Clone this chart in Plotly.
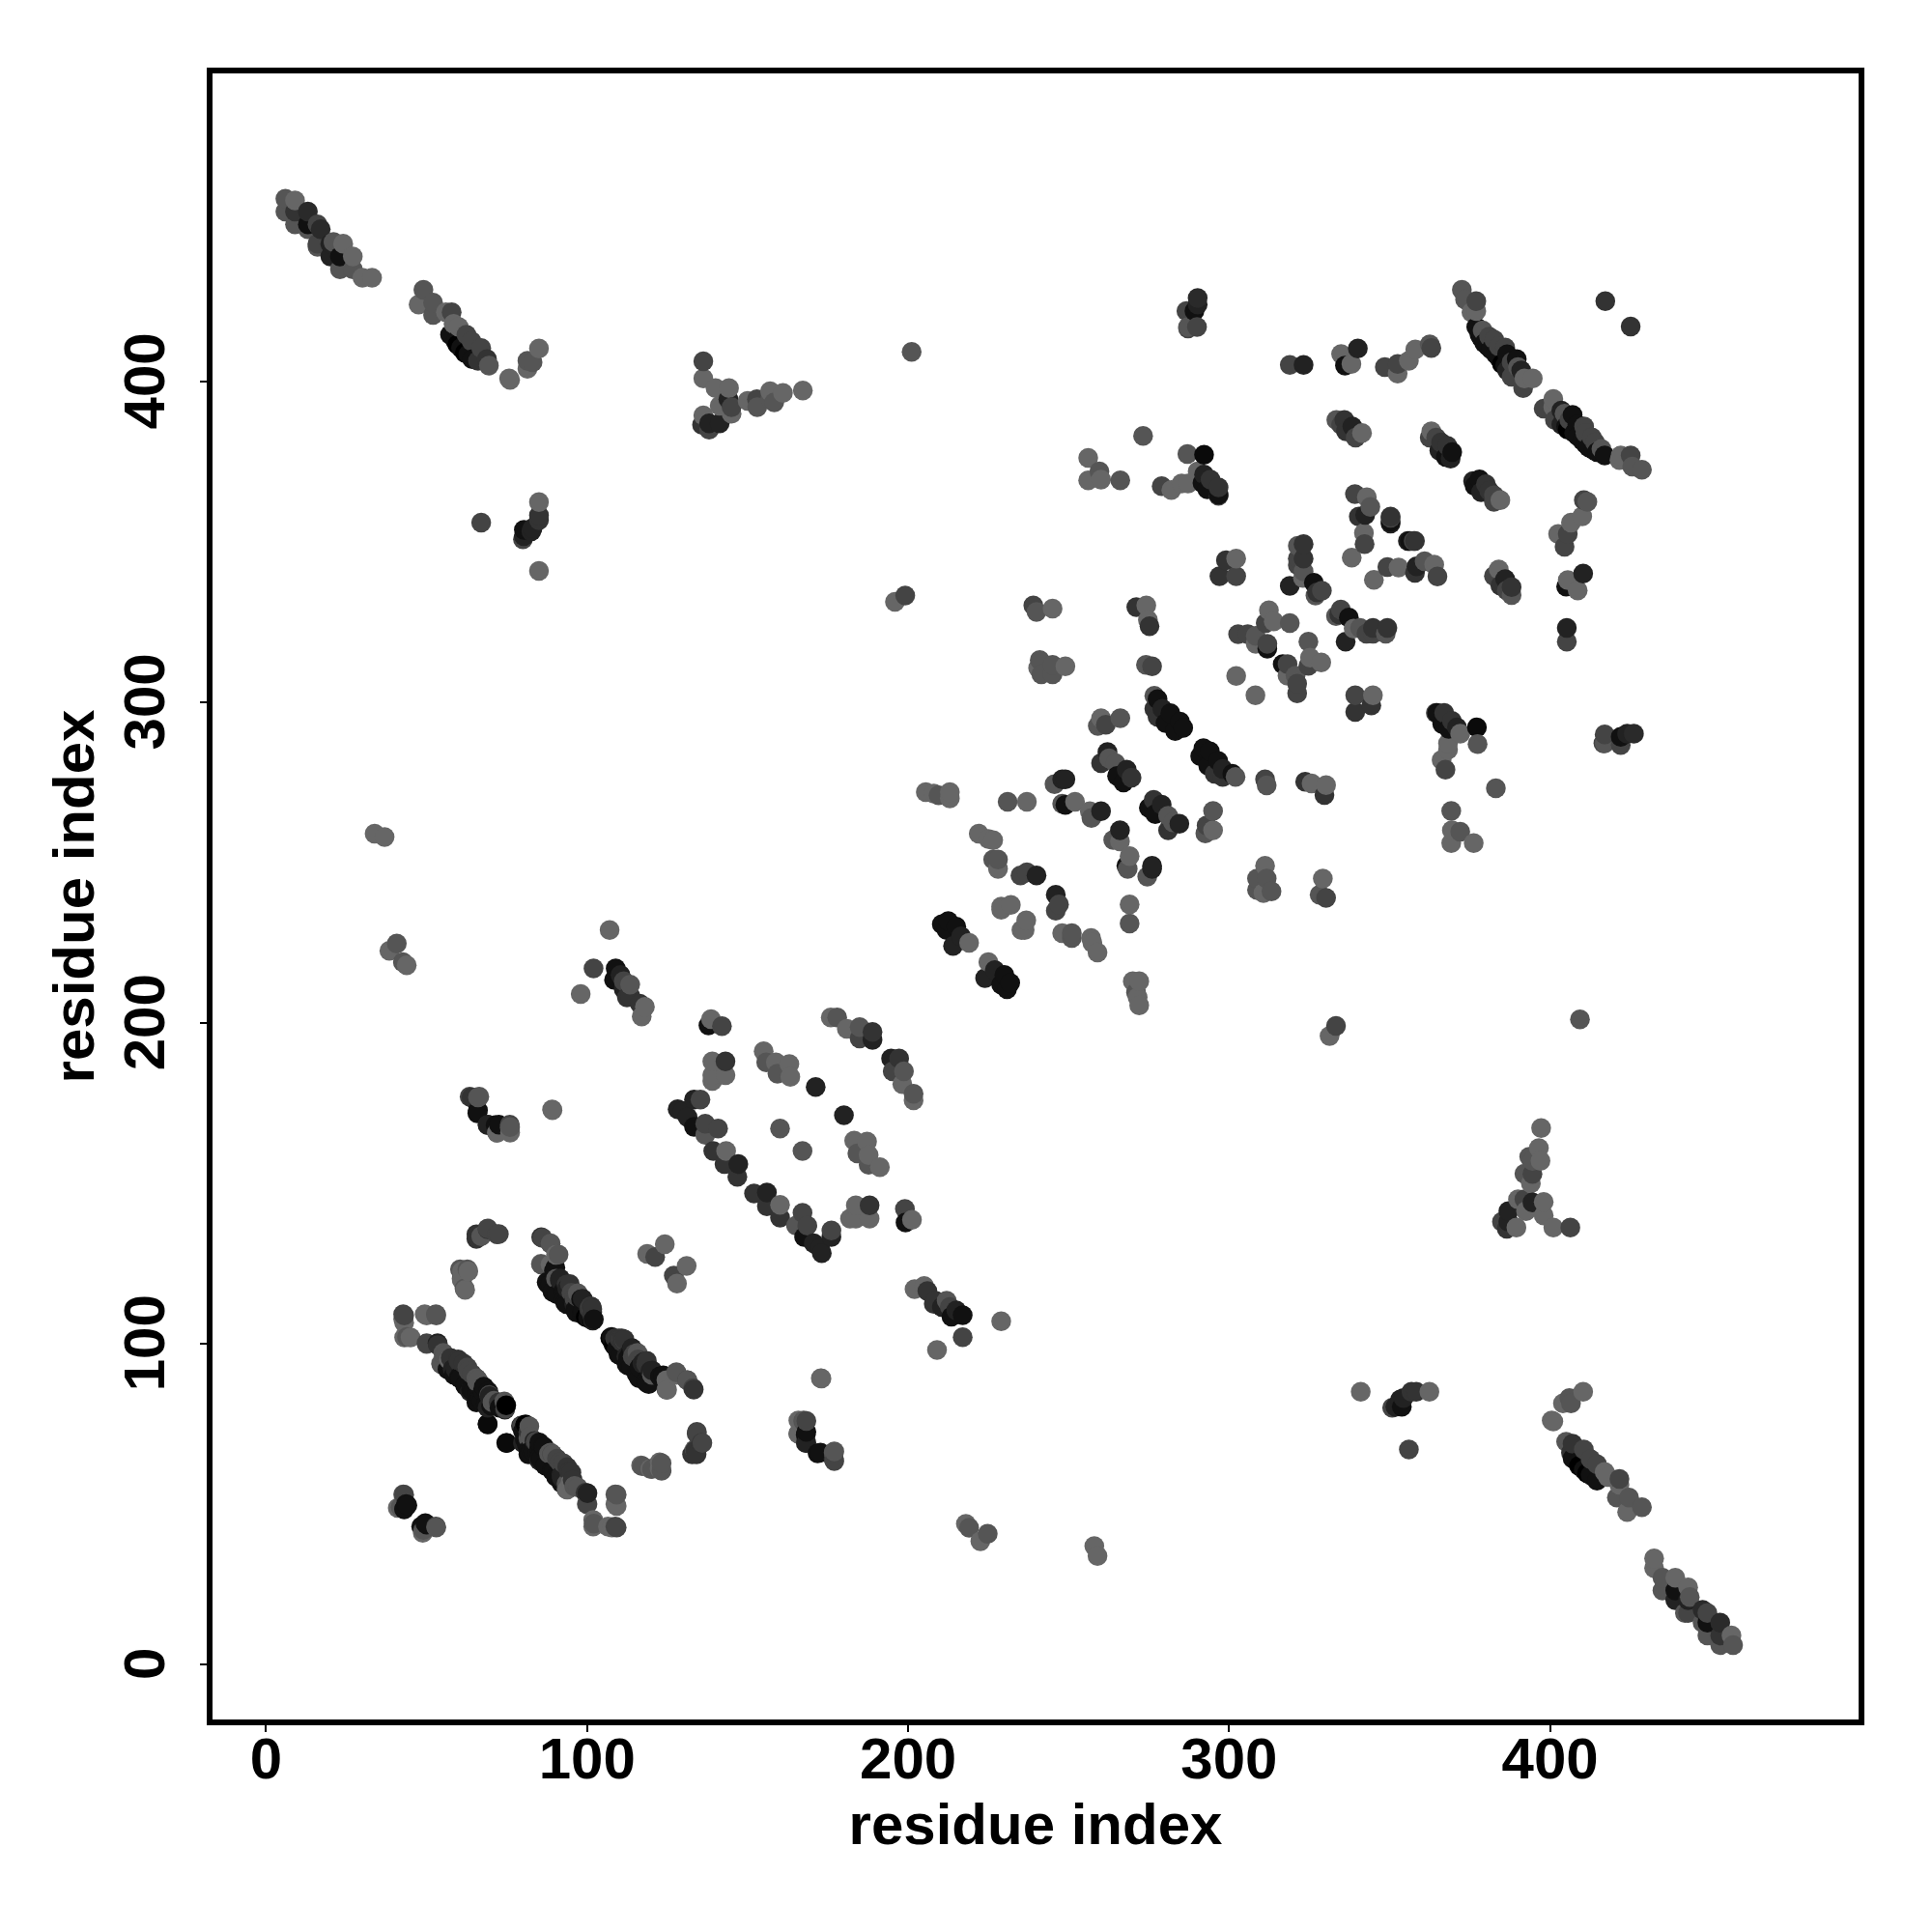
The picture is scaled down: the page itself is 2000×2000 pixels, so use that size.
import plotly.graph_objects as go

# contacts above the diagonal: (residue i, residue j, grey level); each is drawn at (i,j) and (j,i)
term_a = [(6,457,0x55),(9,456.5,0x66),(6,453,0x55),(9,453,0x33),(9,449,0x55),(13,453,0x2a),(13,449,0x11),(16,449,0x44),(17,447.5,0x2a),(13,447.5,0x55),
          (16,443,0x44),(16,442,0x55),(20,443,0x22),(21,443.5,0x55),(24,443,0x66),(20,439,0x22),(23,439,0x11),(27,439,0x66),(23,435,0x55),(27,435,0x55),(30,432.4,0x66),(33,432.4,0x66)]
term_b = [(49,428.6,0x55),(47.5,424,0x66),(52,424.6,0x55),(52,420.8,0x55),(56,421.6,0x66),(57.8,421.6,0x44),(58.4,418,0x66),(60,417,0x66),(57.3,414.6,0x11),(62.4,414.6,0x44),
          (59,412.6,0x11),(64,412.6,0x44),(60.7,410.5,0x11),(67,410.5,0x44),(63,408.5,0x11),(66,406.5,0x33),(69.4,405,0x55),(68.8,407,0x33),(75.7,401,0x66),(76,400.5,0x66),
          (81.4,404,0x66),(81.4,406.5,0x55),(83,406,0x55),(85,410.3,0x66),(59.6,411.5,0x00),(61.9,409,0x00),(64.2,407,0x11)]
term_c = [(85,362.4,0x66),(67,356,0x44),(85,358.3,0x33),(85,356.8,0x33),(83,354.3,0x22),(82.6,353.3,0x22),(80,350.8,0x44),(80.3,351.8,0x22),(80.3,353.8,0x11),(85,341,0x66)]
term_d = [(136.2,406.3,0x44),(136.2,401,0x66),(140,398,0x66),(144,394.5,0x22),(144.2,398,0x66),(141.3,392.5,0x66),(145,390,0x66),(145,392,0x44),(136.2,389.5,0x66),(138,385,0x44),
          (135.8,386.5,0x33),(138,387,0x22),(141.3,387,0x22),(150,394,0x66),(153,392,0x55),(152.9,394.5,0x44),(157,394.5,0x55),(157,397,0x66),(158.3,393.5,0x55),(161,396.5,0x66),(167.2,397.2,0x66)]
far_a = [(201.1,409.3,0x55),(195.9,331.3,0x66),(199.1,333.3,0x44),(33.8,259,0x66),(36.9,258,0x66),(38.4,222.5,0x66),(40.7,224.8,0x55),(42.6,219,0x55),(43.8,218,0x66),
         (89.1,173,0x66),(107,229,0x66),(98,209,0x66),(102,217,0x44),(172.8,89.2,0x66)]
mid_a = [(290.2,426.1,0x2a),(290.2,424,0x22),(286.7,422,0x44),(289.2,422,0x11),(287.2,416.6,0x44),(287.2,417,0x55),(290,417,0x44),(273.2,383.1,0x55),
         (256.1,376.2,0x66),(256.1,369.2,0x66),(260.1,369.4,0x66),(259.6,372,0x55),(266.1,369.2,0x55),(279,367.4,0x44),(282,366.2,0x66),(285.2,368.2,0x66),(287.2,368.2,0x66),(287,377.4,0x55),(292.2,377.2,0x0a),
         (290.2,372,0x66),(292.2,371,0x22),(291.7,368.4,0x11),(293.2,366.4,0x11),(294.2,369.4,0x33),(296.7,364.4,0x44),(296.7,364.8,0x11),(296.7,367,0x33),
         (299,344.3,0x33),(302.2,344.8,0x66),(297,339.3,0x33),(302.2,339.3,0x44)]
mid_b = [(239,330.2,0x44),(240,328.2,0x55),(245,329.2,0x66),(271.1,329.7,0x33),(275.2,323.7,0x33),(274.2,330.2,0x66),(274.7,325.7,0x66),
         (241,313.2,0x55),(240.5,310.7,0x66),(241.5,308.7,0x55),(245,311.7,0x55),(245,308.7,0x55),(249,311.2,0x66),(274.1,311.7,0x55),(276,311.2,0x44),(302.2,308.2,0x66)]
long_a = [(372.5,428.6,0x55),(373.5,425.6,0x55),(375.5,421.6,0x66),(377,425.1,0x44),(377,422,0x66),(377,417,0x11),(379,416,0x55),(378,414.6,0x11),(381,414,0x44),(379.5,412,0x11),
          (384,411,0x44),(381.6,410,0x11),(386.6,408.5,0x11),(384,407.5,0x11),(389.6,407,0x11),(386,405,0x11),(388,406,0x44),(391,403.5,0x22),(390,404.5,0x55),(388,401.5,0x44),(391.6,398,0x44),(392,401,0x66),(394.6,401,0x66),
          (378.6,413.6,0x11),(380.6,411,0x11),(383,408.6,0x11),(385,405.5,0x00),(386.6,403.5,0x22),(382.6,413,0x44),(386,410.6,0x44)]
long_b = [(362.5,382.5,0x44),(363,384.5,0x66),(364.5,382.5,0x44),(366,381,0x33),(365.5,378.5,0x22),(368,380,0x33),(367.5,376.5,0x11),(369,376,0x22),(369.5,378,0x11)]
near_a = [(348.5,404.5,0x44),(352.5,405.5,0x44),(352.5,402.5,0x66),(356,406.5,0x66),(358,410,0x66),(363,410.5,0x44),(362.5,411.6,0x55),(318.9,405.2,0x44),(323.2,405.2,0x22),
          (334.9,408.6,0x66),(340.1,410.3,0x22),(336.1,405,0x11),(338.1,405.5,0x66),(417.2,425.1,0x33),
          (333.4,388,0x55),(335.9,388,0x33),(334.9,386.5,0x44),(338.4,386,0x22),(336.4,384.5,0x33),(339.4,382.5,0x44),(341.4,384,0x66)]
near_b = [(339.2,364.9,0x44),(342.9,363.9,0x66),(340.4,357.9,0x33),(342.4,358.4,0x22),(344,360.9,0x55),(342.2,349.3,0x44),(342,352.8,0x66),(338.2,345.1,0x66),(350.3,356.3,0x11),(350.3,357.9,0x33),
          (355.7,350.3,0x22),(357.5,350.3,0x44)]
center_a = [(321.4,348.8,0x55),(323.2,349.3,0x33),(321.4,344.8,0x44),(323.2,344.8,0x33),(321.4,342.8,0x44),(323.2,340.8,0x55),(323,338.8,0x66),(318.9,336.3,0x22),(326.4,337.3,0x11),(327.4,334.3,0x33),(326.9,333.3,0x55),(328.9,334.8,0x44),
            (311.4,324.7,0x44),(312.4,328.7,0x66),(313.9,325.2,0x66),(318.9,324.7,0x55),(302.8,321.2,0x44),(305.8,321.2,0x44),(308.3,320.7,0x55),(308.3,318.2,0x66),(311.9,316.7,0x11),(311.9,318.2,0x44)]
seg_a = [(276.7,302,0x55),(277.7,301,0x11),(276.7,298,0x33),(279.2,298,0x22),(277.7,295.5,0x33),(281.7,296.6,0x11),(280.2,293.5,0x11),(284.7,294,0x11),(283.2,291,0x11),(285.7,292,0x11),
         (259.1,292.6,0x55),(260.1,295,0x66),(261.6,293,0x44),(266.1,295,0x55)]
seg_b = [(260.1,281,0x33),(262.1,284.5,0x22),(262.6,282.5,0x55),(264.6,281,0x55),(265.1,277,0x11),(267.1,275,0x11),(268.1,279,0x22),(269.6,276.5,0x33),
         (245.6,274.5,0x55),(248,276,0x22),(249,276,0x22),(249,268,0x11),(248,268.4,0x55),(252,269,0x66),(257.1,263.9,0x55),(256.6,266,0x66),(260.1,266,0x22)]
seg_c = [(205.5,272,0x66),(208,271.5,0x66),(209.5,271,0x55),(213,270,0x66),(213,272,0x66),(231,269,0x55),(237,269,0x66),(222,259,0x66),(225,257.4,0x66),(226.5,257,0x66),
         (226.5,251,0x55),(228,248,0x66),(228,251,0x55),(235,246,0x44),(237,247,0x44),(240,246,0x22),(229,235.3,0x66),(229,236.3,0x66),(232,236.8,0x66)]
seg_d = [(210.5,230.8,0x11),(212.5,231.8,0x11),(212,229,0x11),(215,230,0x11),(214,224,0x22),(216.5,227,0x22),(219,225,0x66)]
top_a = [(175.9,201.7,0x66),(177.9,201.7,0x55),(180.9,198.2,0x66),(184.9,195.2,0x44),(184.9,198.7,0x55),(188.9,194.7,0x22),(188.9,197.2,0x33),
         (137.8,199.2,0x11),(138.6,201.2,0x66),(142,199,0x44),(139,181.9,0x66),(139,183.7,0x66),(139,188,0x66),(143.1,183.7,0x66),(143.1,188,0x33),
         (155,191.2,0x66),(155.8,187.7,0x55),(158.8,187.7,0x66),(159.3,184.2,0x55),(163,187.2,0x66),(163.3,183.2,0x66),(171.2,180,0x22),(160.1,167.1,0x55)]
top_b = [(128.2,173.1,0x22),(129.8,172.6,0x22),(131.3,170.6,0x22),(133.3,176.1,0x22),(135.3,176.1,0x44),(133.3,167.6,0x11),(136.8,165.1,0x55),(136.8,168.6,0x44),(140.8,167.1,0x44),
         (139.3,160.1,0x33),(143.3,160.1,0x66),(146.8,152,0x33),(142.8,156,0x33),(147.1,156,0x22),(121.2,127,0x44),(118.7,128,0x66),(124.2,131,0x66)]
top_c = [(117,202,0x66),(118,205,0x66),(116.4,206,0x33),(112.4,208,0x33),(113.4,208.5,0x33),(111.4,210.5,0x22),(113.4,212,0x55),(108.4,213.5,0x11),(111.4,213,0x44),(110.4,215,0x22),(108.9,217,0x11)]
low_a = [(64,176.8,0x33),(66,172.7,0x11),(66,176.8,0x55),(69,168.1,0x33),(71.5,168.1,0x11),(72,165.8,0x66),(76,165.8,0x66),(76,167.5,0x55),
         (65.5,134.1,0x33),(67,133.5,0x55),(69,135.9,0x44),(72,134.1,0x44),(61,122.6,0x66),(63,122.6,0x66),(61,119.7,0x66),(62,116.8,0x66),
         (43,106.5,0x66),(43,108.8,0x44),(50,108.8,0x66),(53,108.8,0x55),(43,101.9,0x66),(45,101.9,0x66)]
low_b = [(50,99.9,0x55),(53.5,99.5,0x33),(54.5,93.8,0x66),(55.5,96,0x55),(57,94.9,0x66),(59,92,0x22),(60,94.4,0x33),(60.5,89.2,0x11),(63,91.5,0x44),(66,88.6,0x55),(63.5,85.1,0x22),
         (67.5,85.1,0x11),(66,82.2,0x11),(69,80,0x22),(70.5,81.7,0x55),(72.5,81.7,0x33),(74.4,79.4,0x22),(74.8,80.8,0x00),(69,74.8,0x0a),(75,69,0x0a),
         (56.5,92,0x11),(58.5,90.3,0x11),(62,86.9,0x11),(65.5,81.7,0x11),(57.5,95.5,0x33),(61.5,93.8,0x33),(65.5,89.2,0x55),(68,86.3,0x11),(69.5,84,0x44),(64.5,85.2,0x11),(66.5,83.2,0x11),(68.5,81.2,0x11),(71,82.2,0x55),(74.5,79.7,0x44)]
low_c = [(80.6,74.2,0x11),(82,74.2,0x55),(80.6,70.1,0x11),(83.6,69.6,0x22),(82.6,66.7,0x11),(86.6,67.8,0x11),(85.6,63.8,0x11),(89.1,65.5,0x44),(89.1,60.4,0x11),(92.6,62.7,0x44),
         (93.6,56.3,0x55),(95.1,59.8,0x33),(97.1,55.2,0x55),(100.1,50,0x44),(100.1,53.4,0x22),(109.2,49.4,0x66),(109.2,52.9,0x55),(102.1,43.9,0x55),(107.7,42.7,0x66),(109.2,42.7,0x44),
         (41,48.8,0x66),(43,52.9,0x44),(43,48.3,0x22),(44,49.6,0x11),(49,41.9,0x55),(48.5,43,0x11),(50,43.6,0x11),(53,42.7,0x55),
         (80,72.7,0x11),(82,67.2,0x11),(84.6,65.7,0x11),(87.1,62.1,0x11),(89.6,60.1,0x11),(92.1,58.1,0x22),(85.1,69.2,0x11),(88.1,65.7,0x55),(90.6,64.1,0x44),(94.6,60.1,0x33),(96.1,55.6,0x55),(93.6,54.6,0x55)]
low_d = [(117.2,61.8,0x55),(120.2,60.9,0x55),(123.2,60.4,0x55),(123.2,62.7,0x55),(132.7,65.5,0x33),(133.7,66.7,0x33),(134.2,72.5,0x44),(135.7,69,0x33),
         (165.8,71.9,0x66),(167.3,75.9,0x55),(168.3,75.9,0x44),(168.3,69,0x22),(168.3,72.5,0x11),(171.8,65.8,0x11),(177,66.4,0x55),(177,63.4,0x44)]
low_e = [(85.6,124.9,0x66),(86.1,133,0x44),(88.6,131.2,0x44),(91.1,127.8,0x55),(88.6,118.6,0x11),(90.1,123.7,0x11),(91.6,120.3,0x22),(92.6,116.3,0x11),(94.6,118.6,0x33),(95.6,112.8,0x11),
         (97.1,115.7,0x55),(98.6,109.9,0x11),(98.6,114,0x22),(101.1,111.6,0x44),(102.1,107.6,0x11),(101.6,109.9,0x33),
         (88.1,118.4,0x11),(90.6,115.4,0x11),(93.6,112.3,0x11),(96.6,109.8,0x11),(99.6,108.3,0x00),(101.6,107.3,0x00),(93.6,118.4,0x33),(95.1,115.9,0x44),(98.1,113.8,0x11),(100.6,110.8,0x33),(101.6,110.8,0x33)]
low_f = [(107.2,101.8,0x22),(108.7,101.6,0x33),(109.2,98.4,0x11),(110.7,101.3,0x44),(112.2,96,0x22),(114.2,96,0x44),(112.7,93.2,0x11),(115.7,90.3,0x11),(117.2,93.8,0x22),(119.2,87.4,0x11),(119.7,91.5,0x22),
         (122.7,89.7,0x11),(124.7,85.7,0x55),(124.7,88.6,0x66),(127.7,90.3,0x66),(131.2,88.6,0x55),(133.2,85.7,0x33),
         (108.1,100.3,0x11),(110.6,96.3,0x11),(113.7,92.8,0x11),(116.2,89.2,0x11),(118.7,87.7,0x11),(111.6,101.3,0x33),(114.7,96.8,0x44),(117.7,94.3,0x22),(120.2,90.3,0x55),(122.7,89.8,0x11)]

tick_values = [0, 100, 200, 300, 400]
axis_title = "residue index"

groups = [term_a, term_b, term_c, term_d, far_a, mid_a, mid_b, long_a, long_b, near_a, near_b, center_a,
          seg_a, seg_b, seg_c, seg_d, top_a, top_b, top_c, low_a, low_b, low_c, low_d, low_e, low_f]
contacts = [c for g in groups for c in g]
# both halves of the symmetric map, drawn in order of the x residue
points = sorted([(c[0], c[1], c[2]) for c in contacts] + [(c[1], c[0], c[2]) for c in contacts])
xs = [p[0] for p in points]
ys = [p[1] for p in points]
cols = ["rgb(%d,%d,%d)" % (p[2], p[2], p[2]) for p in points]

FONT = dict(family="Liberation Sans", size=60, color="black", weight=700)
fig = go.Figure(go.Scatter(x=xs, y=ys, mode="markers", cliponaxis=False,
                           marker=dict(size=20.5, color=cols, line=dict(width=0))))
axis = dict(tickvals=tick_values, ticks="outside", ticklen=7, tickwidth=2,
            tickcolor="black", showline=True, mirror=True, linecolor="black", linewidth=6,
            showgrid=False, zeroline=False, tickfont=FONT)
fig.update_xaxes(**axis, range=[-16.7, 496.1], ticklabelstandoff=-24,
                 title=dict(text=axis_title, font=FONT, standoff=16))
fig.update_yaxes(**axis, range=[-17.2, 496.1], tickangle=-90, ticklabelstandoff=13,
                 ticktext=["%d\u00a0" % v for v in tick_values],
                 title=dict(text=axis_title, font=FONT, standoff=1))
fig.update_layout(width=2000, height=2000, autosize=False, showlegend=False,
                  paper_bgcolor="white", plot_bgcolor="white",
                  margin=dict(l=220, r=76, t=76, b=220, autoexpand=False))
fig.write_html("out.html", config=dict(displayModeBar=False),
               post_script="document.body.style.margin='0';")
